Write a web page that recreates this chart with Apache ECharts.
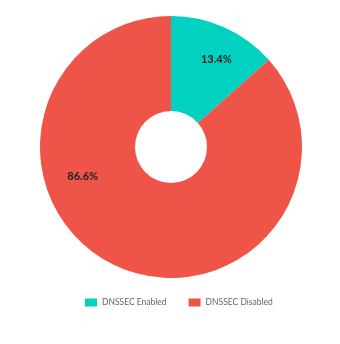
<!DOCTYPE html>
<html><head><meta charset="utf-8">
<script src="https://cdn.jsdelivr.net/npm/echarts@6/dist/echarts.min.js"></script>
<style>html,body{margin:0;padding:0;background:#fff}#c{width:340px;height:344px}</style>
</head><body><div id="c"></div>
<script>
const categories = ["DNSSEC Enabled", "DNSSEC Disabled"];
const values = [13.4, 86.6];
const colors = ["#00D1C1", "#EE5548"];
const labelShift = [[10, -9], [-53, -49]];
const chart = echarts.init(document.getElementById('c'));
chart.setOption({
  animation: false,
  color: colors,
  legend: {
    top: 298, left: 85, padding: 0, itemWidth: 12, itemHeight: 8, itemGap: 22,
    icon: 'rect',
    textStyle: { fontFamily: 'Lato', fontSize: 8.5, color: '#666' },
    data: categories
  },
  series: [{
    type: 'pie',
    center: [171, 147],
    radius: [36, 131],
    startAngle: 90,
    clockwise: true,
    label: {
      position: 'inside',
      formatter: p => p.value.toFixed(1) + '%',
      fontFamily: 'Lato', fontSize: 11, fontWeight: 'bold', color: '#222'
    },
    labelLine: { show: false },
    labelLayout: p => ({ dx: labelShift[p.dataIndex][0], dy: labelShift[p.dataIndex][1] }),
    emphasis: { disabled: true },
    data: categories.map((c, i) => ({ name: c, value: values[i] }))
  }]
});
</script></body></html>
